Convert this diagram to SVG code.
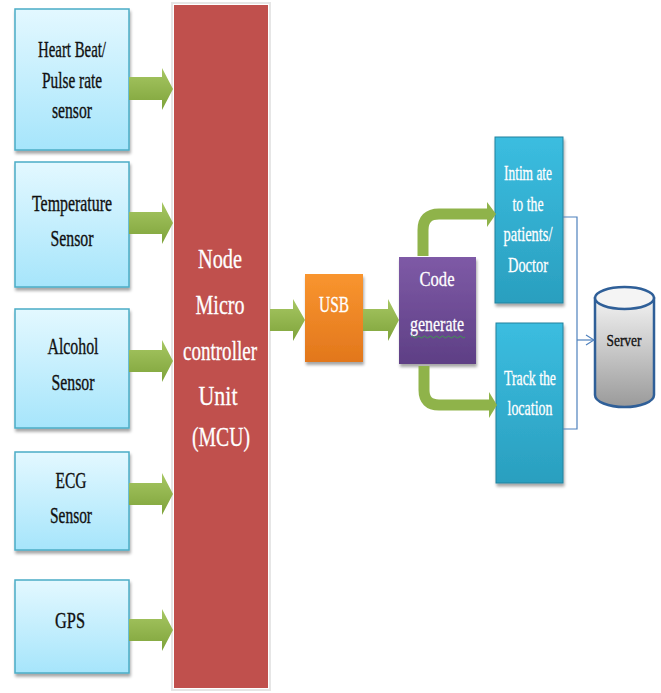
<svg xmlns="http://www.w3.org/2000/svg" width="661" height="693" viewBox="0 0 661 693" font-family="'Liberation Serif', 'DejaVu Serif', serif">
<style>
.t{text-anchor:middle}
.dk{fill:#111;stroke:#111;stroke-width:0.35}
.wt{fill:#fff;stroke:#fff;stroke-width:0.3}
.sensor{fill:url(#gSensor);stroke:#4bacc6;stroke-width:1.5;filter:url(#sh)}
.conn{fill:none;stroke:#4f81bd;stroke-width:1.2}
.garrow{fill:url(#gGreen)}
.gpath{fill:none;stroke:#8fb34a;stroke-width:11}
.ghead{fill:#8fb34a}
</style>
<defs>
<linearGradient id="gSensor" x1="0" y1="0" x2="0" y2="1"><stop offset="0" stop-color="#e3f8ff"/><stop offset="1" stop-color="#a6e5fb"/></linearGradient>
<linearGradient id="gGreen" x1="0" y1="0" x2="0" y2="1"><stop offset="0" stop-color="#a7c763"/><stop offset="1" stop-color="#7ea33a"/></linearGradient>
<linearGradient id="gUsb" x1="0" y1="0" x2="0" y2="1"><stop offset="0" stop-color="#f9952f"/><stop offset="1" stop-color="#e2771c"/></linearGradient>
<linearGradient id="gCode" x1="0" y1="0" x2="0" y2="1"><stop offset="0" stop-color="#7e5aa6"/><stop offset="1" stop-color="#5e3f85"/></linearGradient>
<linearGradient id="gTeal" x1="0" y1="0" x2="0" y2="1"><stop offset="0" stop-color="#3bbde0"/><stop offset="1" stop-color="#2a9fbf"/></linearGradient>
<linearGradient id="gServer" x1="0" y1="0" x2="0" y2="1"><stop offset="0" stop-color="#f2f2f2"/><stop offset="1" stop-color="#9a9a9a"/></linearGradient>
<filter id="sh" x="-20%" y="-20%" width="140%" height="140%"><feDropShadow dx="1" dy="3" stdDeviation="1.5" flood-color="#000" flood-opacity="0.35"/></filter>
<marker id="openArrow" markerWidth="10" markerHeight="12" refX="9" refY="6" orient="auto" markerUnits="userSpaceOnUse"><path d="M1,1 L9,6 L1,11" fill="none" stroke="#4f81bd" stroke-width="1.2"/></marker>
</defs>
<rect width="661" height="693" fill="#fff"/>

<g id="heartbeat">
<rect class="sensor" x="15" y="9" width="114" height="141"/>
<text class="t dk" font-size="23" x="72" y="57" textLength="68" lengthAdjust="spacingAndGlyphs">Heart Beat/</text>
<text class="t dk" font-size="23" x="72" y="88" textLength="60" lengthAdjust="spacingAndGlyphs">Pulse rate</text>
<text class="t dk" font-size="23" x="72" y="118" textLength="40" lengthAdjust="spacingAndGlyphs">sensor</text>
</g>
<g id="temperature">
<rect class="sensor" x="15" y="162" width="114" height="125"/>
<text class="t dk" font-size="23" x="72" y="211" textLength="80" lengthAdjust="spacingAndGlyphs">Temperature</text>
<text class="t dk" font-size="23" x="72" y="246" textLength="43" lengthAdjust="spacingAndGlyphs">Sensor</text>
</g>
<g id="alcohol">
<rect class="sensor" x="15" y="309" width="114" height="119"/>
<text class="t dk" font-size="23" x="73" y="354" textLength="51" lengthAdjust="spacingAndGlyphs">Alcohol</text>
<text class="t dk" font-size="23" x="73" y="390" textLength="43" lengthAdjust="spacingAndGlyphs">Sensor</text>
</g>
<g id="ecg">
<rect class="sensor" x="15" y="452" width="114" height="98"/>
<text class="t dk" font-size="23" x="71" y="488" textLength="31" lengthAdjust="spacingAndGlyphs">ECG</text>
<text class="t dk" font-size="23" x="71" y="523" textLength="42" lengthAdjust="spacingAndGlyphs">Sensor</text>
</g>
<g id="gps">
<rect class="sensor" x="15" y="580" width="114" height="93"/>
<text class="t dk" font-size="23" x="70" y="628" textLength="30" lengthAdjust="spacingAndGlyphs">GPS</text>
</g>

<g id="mcu">
<rect x="172" y="3" width="98" height="687" fill="none" stroke="#e6e6e6" stroke-width="2"/>
<rect x="174" y="5" width="94" height="683" fill="#c0504d"/>
<text class="t wt" font-size="28" x="220" y="268" textLength="44" lengthAdjust="spacingAndGlyphs">Node</text>
<text class="t wt" font-size="28" x="220" y="314" textLength="49" lengthAdjust="spacingAndGlyphs">Micro</text>
<text class="t wt" font-size="28" x="220" y="360" textLength="74" lengthAdjust="spacingAndGlyphs">controller</text>
<text class="t wt" font-size="28" x="218" y="405" textLength="39" lengthAdjust="spacingAndGlyphs">Unit</text>
<text class="t wt" font-size="28" x="221" y="446" textLength="58" lengthAdjust="spacingAndGlyphs">(MCU)</text>
</g>

<g id="usb">
<rect x="305" y="274" width="58" height="88" fill="url(#gUsb)" filter="url(#sh)"/>
<text class="t wt" font-size="23" x="334" y="312" textLength="30" lengthAdjust="spacingAndGlyphs">USB</text>
</g>

<g id="code">
<rect x="399" y="257" width="77" height="107" fill="url(#gCode)" filter="url(#sh)"/>
<text class="t wt" font-size="22" x="437" y="286" textLength="35" lengthAdjust="spacingAndGlyphs">Code</text>
<text class="t wt" font-size="22" x="437" y="331" textLength="54" lengthAdjust="spacingAndGlyphs">generate</text>
<path d="M411,337 q1.5,-2 3,0 t3,0 t3,0 t3,0 t3,0 t3,0 t3,0 t3,0 t3,0 t3,0 t3,0 t3,0 t3,0 t3,0 t3,0 t3,0 t3,0 t3,0" fill="none" stroke="#3aa04a" stroke-width="0.9"/>
</g>

<g id="intimate">
<rect x="495" y="137" width="68" height="166" fill="url(#gTeal)" stroke="#21829e" stroke-width="1" filter="url(#sh)"/>
<text class="t wt" font-size="21" x="528" y="180" textLength="48" lengthAdjust="spacingAndGlyphs">Intim ate</text>
<text class="t wt" font-size="21" x="528" y="211" textLength="31" lengthAdjust="spacingAndGlyphs">to the</text>
<text class="t wt" font-size="21" x="528" y="241" textLength="49" lengthAdjust="spacingAndGlyphs">patients/</text>
<text class="t wt" font-size="21" x="528" y="272" textLength="40" lengthAdjust="spacingAndGlyphs">Doctor</text>
</g>

<g id="track">
<rect x="496" y="323" width="67" height="160" fill="url(#gTeal)" stroke="#21829e" stroke-width="1" filter="url(#sh)"/>
<text class="t wt" font-size="21" x="530" y="385" textLength="52" lengthAdjust="spacingAndGlyphs">Track the</text>
<text class="t wt" font-size="21" x="530" y="415" textLength="45" lengthAdjust="spacingAndGlyphs">location</text>
</g>

<g id="server">
<path d="M595,298 L595,395 A29.5,12 0 0 0 654,395 L654,298 Z" fill="url(#gServer)" stroke="#2f5f98" stroke-width="2.5"/>
<ellipse cx="624.5" cy="298" rx="29.5" ry="11" fill="#f4f4f4" stroke="#2f5f98" stroke-width="2.5"/>
<text class="t dk" font-size="17" x="624" y="346" textLength="35" lengthAdjust="spacingAndGlyphs">Server</text>
</g>

<g id="connectors">
<path class="garrow" d="M129,77 L162,77 L162,68 L173,89 L162,110 L162,100 L129,100 Z"/>
<path class="garrow" d="M129,212 L162,212 L162,202 L173,223 L162,244 L162,234 L129,234 Z"/>
<path class="garrow" d="M129,350 L162,350 L162,340 L173,361 L162,382 L162,372 L129,372 Z"/>
<path class="garrow" d="M129,483 L162,483 L162,473 L173,494 L162,515 L162,505 L129,505 Z"/>
<path class="garrow" d="M129,619 L162,619 L162,609 L173,630 L162,651 L162,641 L129,641 Z"/>
<path class="garrow" d="M270,309 L293,309 L293,299 L305,320 L293,341 L293,331 L270,331 Z"/>
<path class="garrow" d="M363,309 L388,309 L388,299 L399,320 L388,341 L388,331 L363,331 Z"/>
<path class="gpath" d="M423,256 L423,230 Q423,214 439,214 L489,214"/>
<path class="ghead" d="M487,202 L496,214 L487,227 Z"/>
<path class="gpath" d="M424,366 L424,390 Q424,405 439,405 L491,405"/>
<path class="ghead" d="M489,392 L497,405 L489,418 Z"/>
<path class="conn" d="M563,217 L577,217 L577,429 L563,429"/>
<path class="conn" d="M577,340 L594,340" marker-end="url(#openArrow)"/>
</g>
</svg>
